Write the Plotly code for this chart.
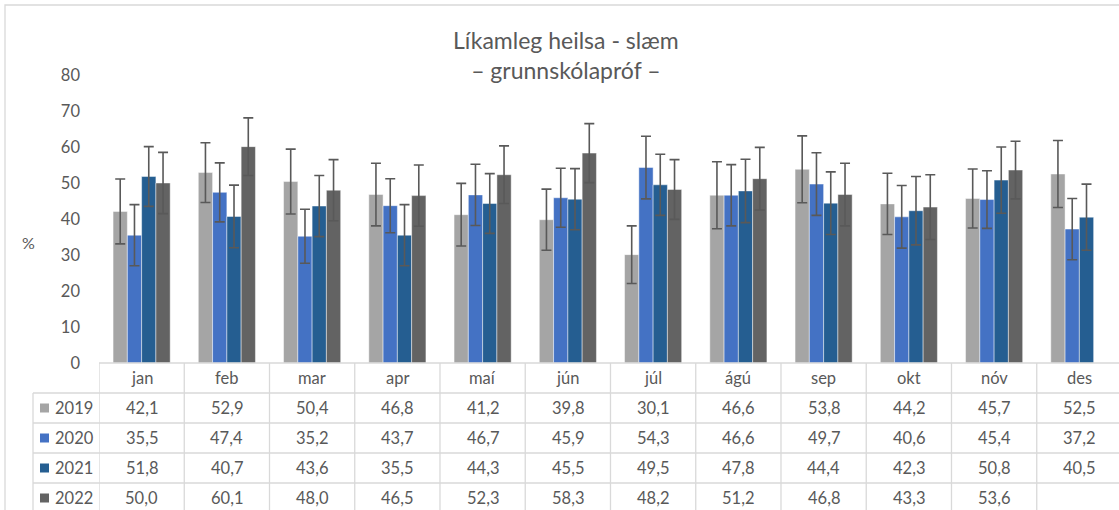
import plotly.graph_objects as go

months = ["jan", "feb", "mar", "apr", "maí", "jún", "júl", "ágú", "sep", "okt", "nóv", "des"]
years = ["2019", "2020", "2021", "2022"]
v2019 = [42.1, 52.9, 50.4, 46.8, 41.2, 39.8, 30.1, 46.6, 53.8, 44.2, 45.7, 52.5]
v2020 = [35.5, 47.4, 35.2, 43.7, 46.7, 45.9, 54.3, 46.6, 49.7, 40.6, 45.4, 37.2]
v2021 = [51.8, 40.7, 43.6, 35.5, 44.3, 45.5, 49.5, 47.8, 44.4, 42.3, 50.8, 40.5]
v2022 = [50.0, 60.1, 48.0, 46.5, 52.3, 58.3, 48.2, 51.2, 46.8, 43.3, 53.6, None]
e2019 = [9.0, 8.3, 9.0, 8.7, 8.7, 8.5, 8.0, 9.3, 9.3, 8.5, 8.2, 9.3]
e2020 = [8.5, 8.2, 7.5, 7.5, 8.5, 8.2, 8.7, 8.5, 8.7, 8.7, 8.0, 8.5]
e2021 = [8.3, 8.7, 8.5, 8.5, 8.3, 8.5, 8.5, 8.8, 8.7, 9.5, 9.2, 9.2]
e2022 = [8.5, 8.0, 8.5, 8.5, 8.0, 8.2, 8.3, 8.7, 8.7, 9.0, 8.0, None]
colors = ["#A5A5A5", "#4472C4", "#255E91", "#636363"]

values = [v2019, v2020, v2021, v2022]
errors = [e2019, e2020, e2021, e2022]

W, H = 1119, 510
L, R, T, B = 99, 0, 75, 147
PW, PH = W - L - R, H - T - B
FONT = "Lato"
TXT = "#595959"
GRID = "#D9D9D9"


def px(x):
    return (x - L) / PW


def py(y):
    return (H - B - y) / PH


fig = go.Figure()
for yr, vals, errs, col in zip(years, values, errors, colors):
    fig.add_trace(go.Bar(
        name=yr, x=months, y=vals,
        marker=dict(color=col, line=dict(color="rgba(255,255,255,0.45)", width=1)),
        error_y=dict(type="data", array=[e if e is not None else 0 for e in errs],
                     visible=True, color="#595959", thickness=1.6, width=5),
    ))

annotations = []
shapes = []

# title
annotations.append(dict(xref="paper", yref="paper", x=px(566), y=py(55),
                        text="Líkamleg heilsa - slæm<br>– grunnskólapróf –",
                        showarrow=False, xanchor="center", yanchor="middle",
                        font=dict(family=FONT, size=23, color=TXT)))
# y-axis title
annotations.append(dict(xref="paper", yref="paper", x=px(28), y=py(243), text="%",
                        showarrow=False, xanchor="center", yanchor="middle",
                        font=dict(family=FONT, size=16, color=TXT)))

row_h = 30
# header row labels
for m in months:
    annotations.append(dict(xref="x", yref="paper", x=m, y=py(363 + row_h / 2), text=m,
                            showarrow=False, xanchor="center", yanchor="middle",
                            font=dict(family=FONT, size=16.5, color=TXT)))
# data rows
for r, (yr, vals, col) in enumerate(zip(years, values, colors)):
    yc = 363 + row_h * (r + 1) + row_h / 2
    for m, v in zip(months, vals):
        t = "" if v is None else f"{v:.1f}".replace(".", ",")
        annotations.append(dict(xref="x", yref="paper", x=m, y=py(yc), text=t,
                                showarrow=False, xanchor="center", yanchor="middle",
                                font=dict(family=FONT, size=16.5, color=TXT)))
    annotations.append(dict(xref="paper", yref="paper", x=px(53), y=py(yc), text=yr,
                            showarrow=False, xanchor="left", yanchor="middle",
                            font=dict(family=FONT, size=16.5, color=TXT)))
    shapes.append(dict(type="rect", xref="paper", yref="paper",
                       x0=px(40), x1=px(49), y0=py(yc - 4.5), y1=py(yc + 4.5),
                       fillcolor=col, line=dict(width=0)))

# table lines
line = dict(color=GRID, width=1.3)
shapes.append(dict(type="line", xref="paper", yref="paper", x0=0, x1=1.01, y0=0, y1=0, line=line))
for r in range(1, 5):
    y = py(363 + row_h * r)
    shapes.append(dict(type="line", xref="paper", yref="paper", x0=px(33), x1=1.01,
                       y0=y, y1=y, line=line))
for i in range(len(months) + 1):
    shapes.append(dict(type="line", xref="x", yref="paper", x0=i - 0.5, x1=i - 0.5,
                       y0=0, y1=py(515), line=line))
shapes.append(dict(type="line", xref="paper", yref="paper", x0=px(33), x1=px(33),
                   y0=py(393), y1=py(515), line=line))
# outer chart border
shapes.append(dict(type="rect", xref="paper", yref="paper", x0=px(5), x1=px(1125),
                   y0=py(520), y1=py(5), line=dict(color=GRID, width=1.3)))

fig.update_layout(
    width=W, height=H,
    margin=dict(l=L, r=R, t=T, b=B),
    paper_bgcolor="white", plot_bgcolor="white",
    barmode="group", bargap=0.33, bargroupgap=0,
    showlegend=False,
    annotations=annotations, shapes=shapes,
    font=dict(family=FONT, color=TXT),
    xaxis=dict(type="category", range=[-0.5, 11.465], showticklabels=False,
               showgrid=False, zeroline=False, showline=False, ticks=""),
    yaxis=dict(range=[0, 80], tickvals=list(range(0, 81, 10)), showgrid=False,
               zeroline=False, showline=False, ticks="", ticklabelstandoff=18,
               tickfont=dict(family=FONT, size=16.5, color=TXT)),
)

fig.write_html("out.html", config={"displayModeBar": False},
               post_script="document.body.style.margin='0';document.body.style.overflow='hidden';")
